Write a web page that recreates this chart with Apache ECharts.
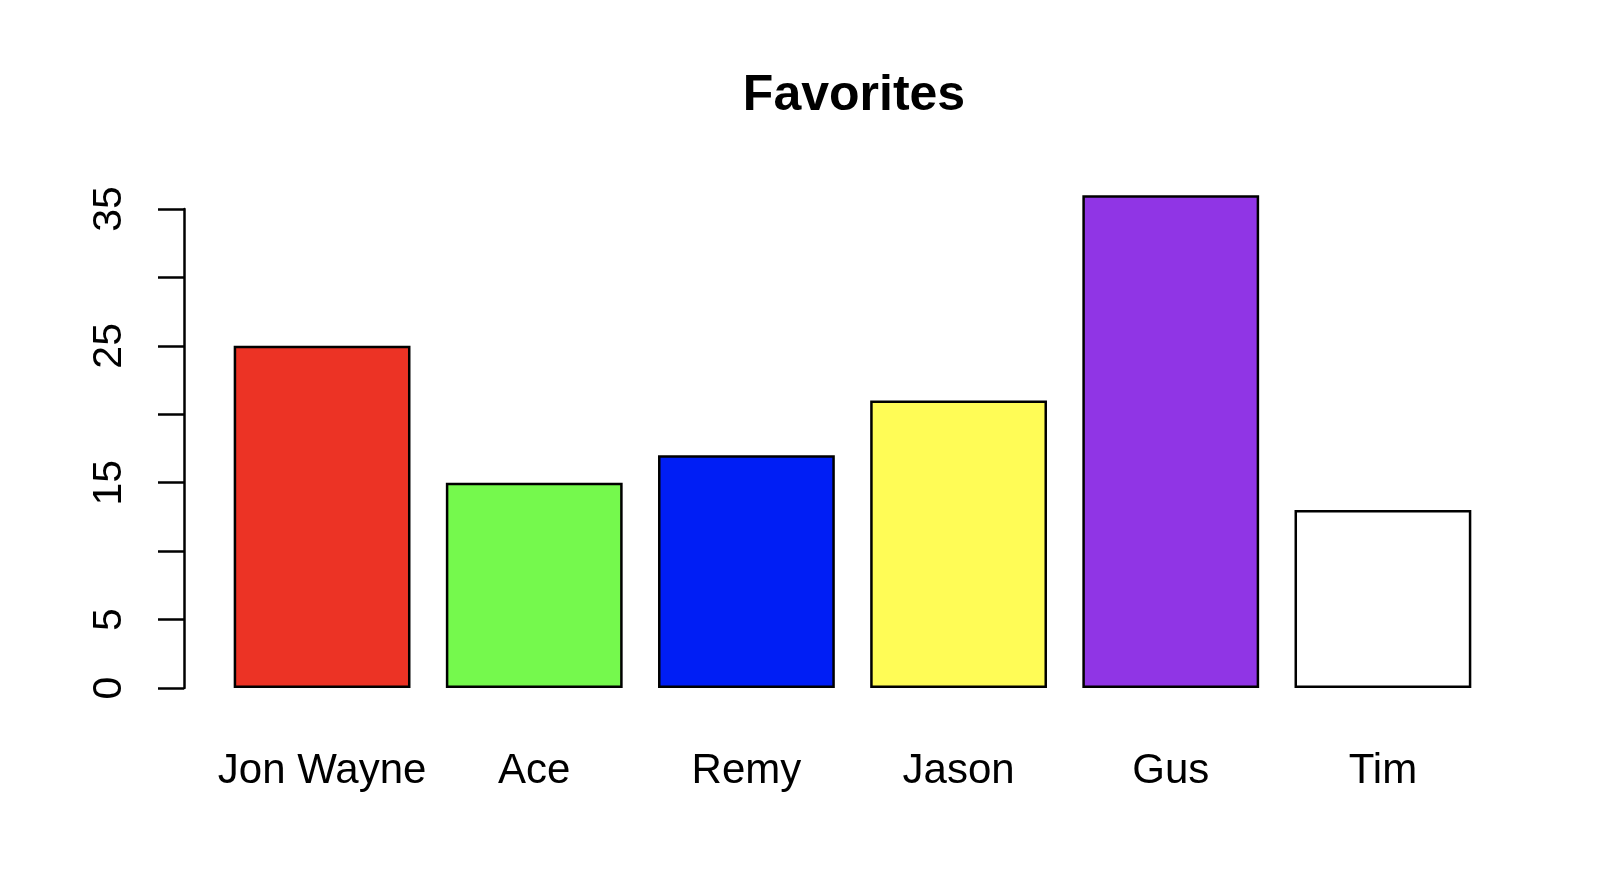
<!DOCTYPE html>
<html>
<head>
<meta charset="utf-8">
<script src="https://cdn.jsdelivr.net/npm/echarts@6/dist/echarts.min.js"></script>
<style>html,body{margin:0;padding:0;background:#fff}#c{width:1600px;height:875px}</style>
</head>
<body>
<div id="c"></div>
<script>
const categories = ['Jon Wayne', 'Ace', 'Remy', 'Jason', 'Gus', 'Tim'];
const values = [25, 15, 17, 21, 36, 13];
const barColors = ['#EC3325', '#75F94D', '#001EF5', '#FFFC56', '#9035E5', '#FFFFFF'];
const yTickLabels = [0, 5, 15, 25, 35];
const titleText = 'Favorites';

const FONT = "'Liberation Sans', Arial, Helvetica, sans-serif";
const chart = echarts.init(document.getElementById('c'), null, {renderer: 'canvas'});
chart.setOption({
  backgroundColor: '#ffffff',
  animation: false,
  title: {
    text: titleText,
    left: 849, top: 66, textAlign: 'center',
    textStyle: {fontFamily: FONT, fontSize: 50, fontWeight: 'bold', color: '#000', lineHeight: 50}
  },
  grid: {left: 216, right: 111, top: 209, bottom: 187, containLabel: false},
  xAxis: {
    type: 'category',
    data: categories,
    axisLine: {show: false},
    axisTick: {show: false},
    axisLabel: {fontFamily: FONT, fontSize: 42, color: '#000', margin: 62, lineHeight: 42, interval: 0}
  },
  yAxis: {
    type: 'value',
    min: 0, max: 35, interval: 5,
    position: 'left',
    offset: 32,
    splitLine: {show: false},
    axisLine: {show: true, lineStyle: {color: '#000', width: 2.5}},
    axisTick: {show: true, inside: false, length: 26, lineStyle: {color: '#000', width: 2.5}},
    axisLabel: {
      rotate: 90, margin: 54, fontFamily: FONT, fontSize: 41, color: '#000', lineHeight: 41,
      formatter: v => yTickLabels.indexOf(v) >= 0 ? String(v) : ''
    }
  },
  series: [{
    type: 'bar',
    data: values.map((v, i) => ({value: v, itemStyle: {color: barColors[i]}})),
    barCategoryGap: '16.667%',
    clip: false,
    itemStyle: {borderColor: '#000', borderWidth: 2.5}
  }]
});
</script>
</body>
</html>
